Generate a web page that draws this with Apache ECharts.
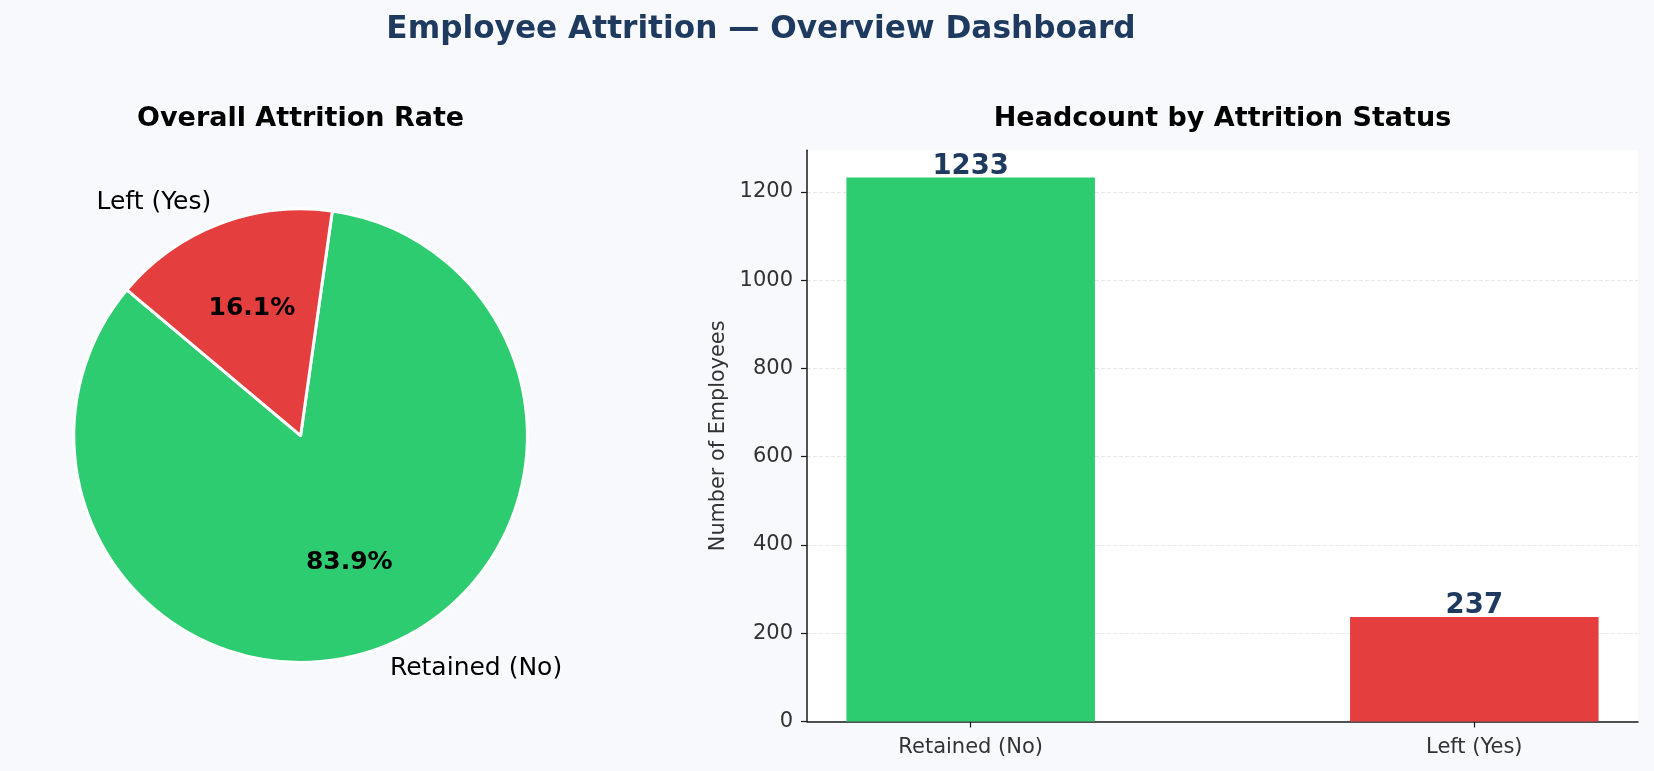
<!DOCTYPE html>
<html>
<head>
<meta charset="utf-8">
<script src="https://cdn.jsdelivr.net/npm/echarts@6/dist/echarts.min.js"></script>
<style>
  html, body { margin: 0; padding: 0; background: #f7f9fc; }
  #chart { width: 1654px; height: 771px; }
</style>
</head>
<body>
<div id="chart"></div>
<script>
// ---- data ----
const categories = ['Retained (No)', 'Left (Yes)'];
const headcount = [1233, 237];
const sliceColors = ['#2ecc71', '#e53e3e'];
const yTickValues = [0, 200, 400, 600, 800, 1000, 1200];
const xTickIndex = [0, 1];

const FONT = 'DejaVu Sans';
const chart = echarts.init(document.getElementById('chart'), null, { renderer: 'canvas' });

const pieData = categories.map((c, i) => ({
  name: c, value: headcount[i], itemStyle: { color: sliceColors[i] }
}));
const pieInnerData = categories.map((c, i) => ({ name: c, value: headcount[i] }));
const barData = categories.map((c, i) => ({
  value: [i, headcount[i]], itemStyle: { color: sliceColors[i] }
}));

const option = {
  backgroundColor: '#f7f9fc',
  animation: false,
  textStyle: { fontFamily: FONT },
  title: [
    { text: 'Employee Attrition \u2014 Overview Dashboard', left: 761, top: 14.5, textAlign: 'center', padding: 0,
      textStyle: { fontFamily: FONT, fontSize: 31.2, fontWeight: 'bold', color: '#1e3a5f' } },
    { text: 'Overall Attrition Rate', left: 300.6, top: 105.5, textAlign: 'center', padding: 0,
      textStyle: { fontFamily: FONT, fontSize: 27, fontWeight: 'bold', color: '#000' } },
    { text: 'Headcount by Attrition Status', left: 1222.5, top: 105.5, textAlign: 'center', padding: 0,
      textStyle: { fontFamily: FONT, fontSize: 27, fontWeight: 'bold', color: '#000' } }
  ],
  grid: {
    left: 807, top: 150.2, right: 16, bottom: 49.5,
    show: true, backgroundColor: '#ffffff', borderWidth: 0
  },
  xAxis: {
    type: 'value', min: -0.325, max: 1.325,
    axisLine: { show: true, onZero: false, lineStyle: { color: '#1a1a1a', width: 1.5 } },
    axisTick: { show: true, customValues: xTickIndex, length: 6, lineStyle: { color: '#1a1a1a', width: 1.2 } },
    axisLabel: { customValues: xTickIndex, formatter: v => categories[Math.round(v)] || '',
      fontFamily: FONT, fontSize: 21, color: '#333', margin: 16 },
    splitLine: { show: false }
  },
  yAxis: {
    type: 'value', min: 0, max: v => v.max * 1.05, interval: 200,
    name: 'Number of Employees', nameLocation: 'middle', nameGap: 71,
    nameTextStyle: { fontFamily: FONT, fontSize: 20.8, color: '#333' },
    axisLine: { show: true, onZero: false, lineStyle: { color: '#1a1a1a', width: 1.5 } },
    axisTick: { show: true, customValues: yTickValues, length: 6, lineStyle: { color: '#1a1a1a', width: 1.2 } },
    axisLabel: { customValues: yTickValues, formatter: v => String(v),
      fontFamily: FONT, fontSize: 21, color: '#333', margin: 14 },
    splitLine: { show: true, lineStyle: { type: 'dashed', color: '#e8e8e8', width: 1 } }
  },
  series: [
    {
      type: 'pie', center: [300.6, 435.6], radius: 226.8,
      startAngle: 140, clockwise: false, avoidLabelOverlap: false,
      silent: true, emphasis: { disabled: true },
      itemStyle: { borderColor: '#ffffff', borderWidth: 3 },
      label: { show: true, position: 'outside', formatter: '{b}', distanceToLabelLine: 0,
        fontFamily: FONT, fontSize: 25, color: '#000' },
      labelLine: { show: false, length: 22.7, length2: 0 },
      data: pieData
    },
    {
      type: 'pie', center: [300.6, 435.6], radius: [39, 226.8],
      startAngle: 140, clockwise: false, avoidLabelOverlap: false,
      silent: true, emphasis: { disabled: true },
      itemStyle: { color: 'rgba(0,0,0,0)', borderWidth: 0 },
      label: { show: true, position: 'inside', formatter: p => p.percent.toFixed(1) + '%',
        fontFamily: FONT, fontSize: 25, fontWeight: 'bold', color: '#000' },
      labelLine: { show: false },
      data: pieInnerData
    },
    {
      type: 'bar', barWidth: 248.5, silent: true,
      label: { show: true, position: 'top', distance: -3, formatter: p => p.value[1],
        fontFamily: FONT, fontSize: 27.5, fontWeight: 'bold', color: '#1e3a5f' },
      data: barData
    }
  ]
};
chart.setOption(option);
</script>
</body>
</html>
